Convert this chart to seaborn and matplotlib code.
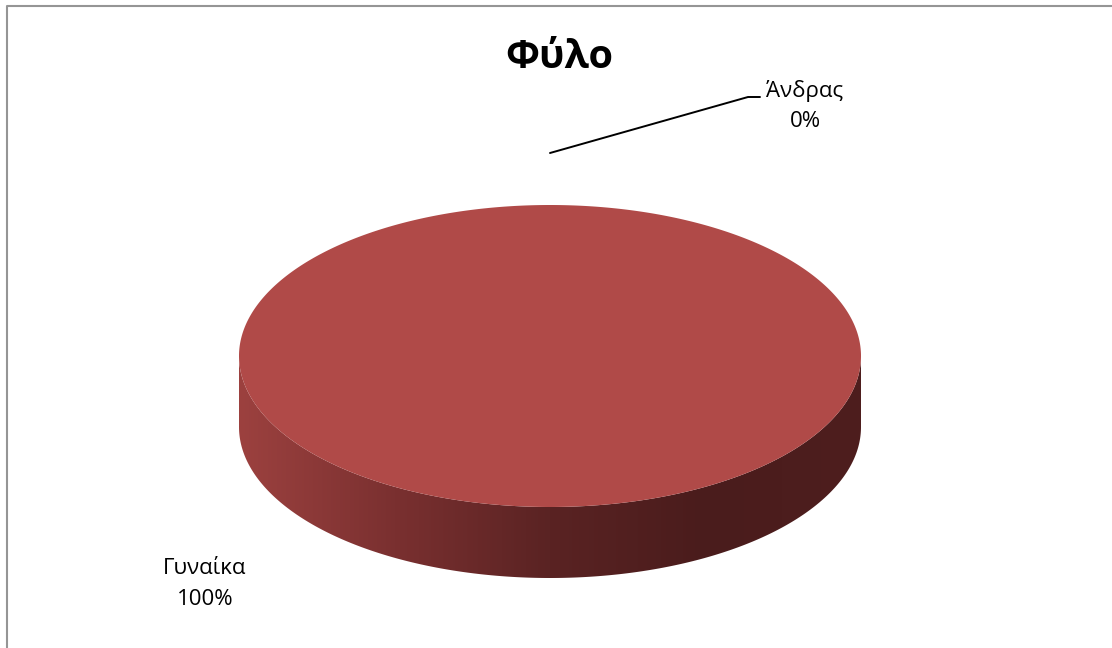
import numpy as np
import matplotlib
matplotlib.use("Agg")
import matplotlib.pyplot as plt
from matplotlib.path import Path
from matplotlib.patches import PathPatch
import seaborn as sns

# Data
categories = ["Γυναίκα", "Άνδρας"]
values = [100, 0]
title = "Φύλο"

sns.set_theme(style="white")
plt.rcParams["font.family"] = ["Open Sans", "Noto Sans", "DejaVu Sans"]

W, H = 1112, 648
fig = plt.figure(figsize=(W / 100, H / 100), dpi=100)
ax = fig.add_axes([0, 0, 1, 1])
ax.set_xlim(0, W)
ax.set_ylim(H, 0)
ax.axis("off")

# Chart-area frame (top and left edges)
ax.plot([6.5, 6.5, W], [H, 5.5, 5.5], color="#959595", lw=1.5, solid_capstyle="butt")

# Pie geometry (pixel space, y pointing down)
cx, cy = 550, 356
ra, rb = 311, 151
depth = 71
top_color = "#B04A48"
side_cols = sns.blend_palette(["#9C413F", "#7A3030", "#5A2323", "#4A1C1C", "#4E1E1E"], n_colors=256)


def ell(t, dy=0.0):
    return cx + ra * np.cos(t), cy + dy + rb * np.sin(t)


total = float(sum(values))
# Start at 12 o'clock and go clockwise on screen
start = -np.pi / 2
spans = []
for v in values:
    sweep = 2 * np.pi * v / total
    spans.append((start, start + sweep))
    start += sweep

# Side walls: visible front half t in [0, pi] (screen-down half)
grad = np.array(side_cols)[None, :, :]
for (t0, t1), v in zip(spans, values):
    if v <= 0:
        continue
    segs = []
    for k in (-1, 0, 1):
        a0, a1 = t0 + 2 * np.pi * k, t1 + 2 * np.pi * k
        lo, hi = max(a0, 0.0), min(a1, np.pi)
        if hi > lo:
            segs.append((lo, hi))
    for lo, hi in segs:
        tt = np.linspace(lo, hi, 300)
        xt, yt = ell(tt)
        xb, yb = ell(tt[::-1], depth)
        verts = np.column_stack([np.r_[xt, xb, xt[:1]], np.r_[yt, yb, yt[:1]]])
        codes = [Path.MOVETO] + [Path.LINETO] * (len(verts) - 2) + [Path.CLOSEPOLY]
        patch = PathPatch(Path(verts, codes), facecolor="none", edgecolor="none")
        ax.add_patch(patch)
        im = ax.imshow(grad, extent=[cx - ra, cx + ra, cy + depth + rb + 2, cy - 2],
                       aspect="auto", interpolation="bilinear", zorder=2)
        im.set_clip_path(patch)

# Top faces
for (t0, t1), v in zip(spans, values):
    if v <= 0:
        continue
    tt = np.linspace(t0, t1, 600)
    xt, yt = ell(tt)
    if v < total:
        xs, ys = np.r_[cx, xt], np.r_[cy, yt]
    else:
        xs, ys = xt, yt
    ax.fill(xs, ys, color=top_color, lw=0, zorder=3)

# Title
ax.text(559, 58, title, ha="center", va="center", fontsize=28.5, fontweight="bold",
        color="black", zorder=5)

# Data labels
pct = [f"{round(100 * v / total):d}%" for v in values]

# Γυναίκα label sits to the lower left of the pie
ax.text(205, 584, f"{categories[0]}\n{pct[0]}", ha="center", va="center",
        fontsize=16, linespacing=1.6, color="black", zorder=5)

# Άνδρας label with leader line from the zero-width slice
mid = 0.5 * (spans[1][0] + spans[1][1])
px, py = cx + ra * np.cos(mid), cy + (rb + 52) * np.sin(mid)
ax.plot([px, 748, 760], [py, 97, 97], color="black", lw=1.4, zorder=5)
ax.text(805, 106, f"{categories[1]}\n{pct[1]}", ha="center", va="center",
        fontsize=16, linespacing=1.6, color="black", zorder=5)

fig.savefig("out.png", dpi=100, facecolor="white")
